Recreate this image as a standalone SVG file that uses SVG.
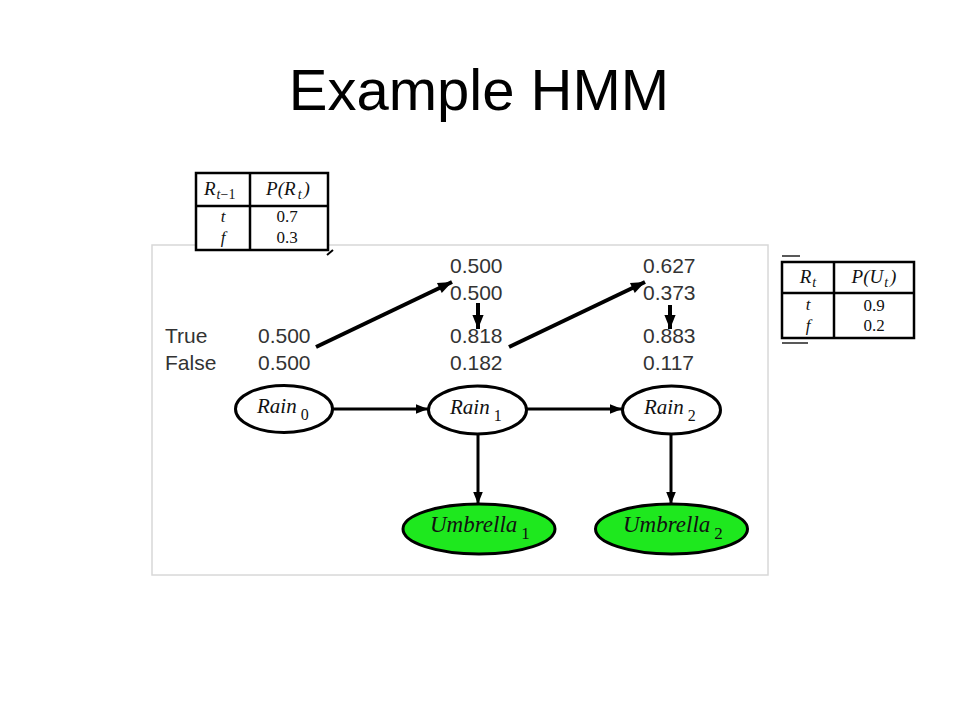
<svg xmlns="http://www.w3.org/2000/svg" width="960" height="720" viewBox="0 0 960 720">
<defs>
<style>
.title{font-family:"Liberation Sans",Arial,sans-serif;font-size:58px;fill:#000}
.num{font-family:"Liberation Sans",Arial,sans-serif;font-size:21px;fill:#333}
.ser{font-family:"Liberation Serif","Times New Roman",serif;font-style:italic;fill:#111}
.tnum{font-family:"Liberation Serif","Times New Roman",serif;font-size:17px;fill:#111}
.tbl{fill:#fff;stroke:#000;stroke-width:2.5}
.node{stroke:#000;stroke-width:3}
.edge{stroke:#000;stroke-width:3;fill:none}
.edge2{stroke:#000;stroke-width:4;fill:none}
</style>
<marker id="ah" viewBox="0 0 10 10" refX="10" refY="5" markerUnits="userSpaceOnUse" markerWidth="18" markerHeight="12" orient="auto">
<path d="M0,1 L10,5 L0,9 z" fill="#000"/>
</marker>
<marker id="ah2" viewBox="0 0 10 10" refX="10" refY="5" markerUnits="userSpaceOnUse" markerWidth="22" markerHeight="14" orient="auto">
<path d="M0,1 L10,5 L0,9 z" fill="#000"/>
</marker>
</defs>
<rect width="960" height="720" fill="#fff"/>
<text class="title" x="479" y="110" text-anchor="middle">Example HMM</text>

<rect x="152" y="245" width="616" height="330" fill="#fff" stroke="#d8d8d8" stroke-width="1.5"/>

<g id="table-transition">
<rect class="tbl" x="196" y="173" width="132" height="77"/>
<line x1="250" y1="173" x2="250" y2="250" stroke="#000" stroke-width="2.5"/>
<line x1="196" y1="206" x2="328" y2="206" stroke="#000" stroke-width="2.5"/>
<text class="ser" x="204" y="195" font-size="19">R<tspan font-size="14" dx="1" dy="4">t</tspan><tspan font-size="14" font-style="normal">−1</tspan></text>
<text class="ser" x="288" y="195" font-size="19" text-anchor="middle">P(R<tspan font-size="14" dx="2" dy="4">t</tspan><tspan dx="2" dy="-4">)</tspan></text>
<text class="ser" x="223" y="222" font-size="17" text-anchor="middle">t</text>
<text class="ser" x="223" y="243" font-size="17" text-anchor="middle">f</text>
<text class="tnum" x="287" y="222" text-anchor="middle">0.7</text>
<text class="tnum" x="287" y="243" text-anchor="middle">0.3</text>
<line x1="327" y1="255" x2="333" y2="250" stroke="#000" stroke-width="2"/>
</g>

<g id="table-sensor">
<rect class="tbl" x="782" y="262" width="132" height="76"/>
<line x1="834" y1="262" x2="834" y2="338" stroke="#000" stroke-width="2.5"/>
<line x1="782" y1="293" x2="914" y2="293" stroke="#000" stroke-width="2.5"/>
<text class="ser" x="808" y="283" font-size="19" text-anchor="middle">R<tspan font-size="14" dx="1" dy="4">t</tspan></text>
<text class="ser" x="874" y="283" font-size="19" text-anchor="middle">P(U<tspan font-size="14" dx="1" dy="4">t</tspan><tspan dx="2" dy="-4">)</tspan></text>
<text class="ser" x="808" y="310" font-size="17" text-anchor="middle">t</text>
<text class="ser" x="808" y="331" font-size="17" text-anchor="middle">f</text>
<text class="tnum" x="874" y="311" text-anchor="middle">0.9</text>
<text class="tnum" x="874" y="331" text-anchor="middle">0.2</text>
<line x1="782" y1="256" x2="800" y2="256" stroke="#222" stroke-width="1.5"/>
<line x1="782" y1="343" x2="808" y2="343" stroke="#222" stroke-width="1.5"/>
</g>

<g id="numbers">
<text class="num" x="165" y="343">True</text>
<text class="num" x="165" y="370">False</text>
<text class="num" x="258" y="343">0.500</text>
<text class="num" x="258" y="370">0.500</text>
<text class="num" x="450" y="273">0.500</text>
<text class="num" x="450" y="300">0.500</text>
<text class="num" x="450" y="343">0.818</text>
<text class="num" x="450" y="370">0.182</text>
<text class="num" x="643" y="273">0.627</text>
<text class="num" x="643" y="300">0.373</text>
<text class="num" x="643" y="343">0.883</text>
<text class="num" x="643" y="370">0.117</text>
</g>

<g id="connectors">
<line class="edge2" x1="316" y1="347" x2="452" y2="282" marker-end="url(#ah2)"/>
<line class="edge2" x1="509" y1="347" x2="645" y2="282" marker-end="url(#ah2)"/>
<line class="edge2" x1="478" y1="303" x2="478" y2="329" marker-end="url(#ah2)"/>
<line class="edge2" x1="670" y1="305" x2="670" y2="329" marker-end="url(#ah2)"/>
<line class="edge" x1="333" y1="409" x2="428" y2="409" marker-end="url(#ah)"/>
<line class="edge" x1="527" y1="409" x2="622" y2="409" marker-end="url(#ah)"/>
<line class="edge" x1="478" y1="434" x2="478" y2="504" marker-end="url(#ah)"/>
<line class="edge" x1="671" y1="434" x2="671" y2="504" marker-end="url(#ah)"/>
</g>

<g id="rain0">
<ellipse class="node" cx="284" cy="409" rx="48.5" ry="23.5" fill="#fff"/>
<text class="ser" x="257" y="413" font-size="21">Rain<tspan font-size="16" font-style="normal" dx="4" dy="7">0</tspan></text>
</g>
<g id="rain1">
<ellipse class="node" cx="477.5" cy="410" rx="49" ry="24" fill="#fff"/>
<text class="ser" x="450" y="414" font-size="21">Rain<tspan font-size="16" font-style="normal" dx="4" dy="7">1</tspan></text>
</g>
<g id="rain2">
<ellipse class="node" cx="671.5" cy="410" rx="49" ry="24" fill="#fff"/>
<text class="ser" x="644" y="414" font-size="21">Rain<tspan font-size="16" font-style="normal" dx="4" dy="7">2</tspan></text>
</g>
<g id="umbrella1">
<ellipse class="node" cx="479" cy="529" rx="76" ry="25" fill="#1ee81e"/>
<text class="ser" x="430" y="532" font-size="23">Umbrella<tspan font-size="17" font-style="normal" dx="4" dy="7">1</tspan></text>
</g>
<g id="umbrella2">
<ellipse class="node" cx="671.5" cy="529" rx="76" ry="25" fill="#1ee81e"/>
<text class="ser" x="623" y="532" font-size="23">Umbrella<tspan font-size="17" font-style="normal" dx="4" dy="7">2</tspan></text>
</g>
</svg>
